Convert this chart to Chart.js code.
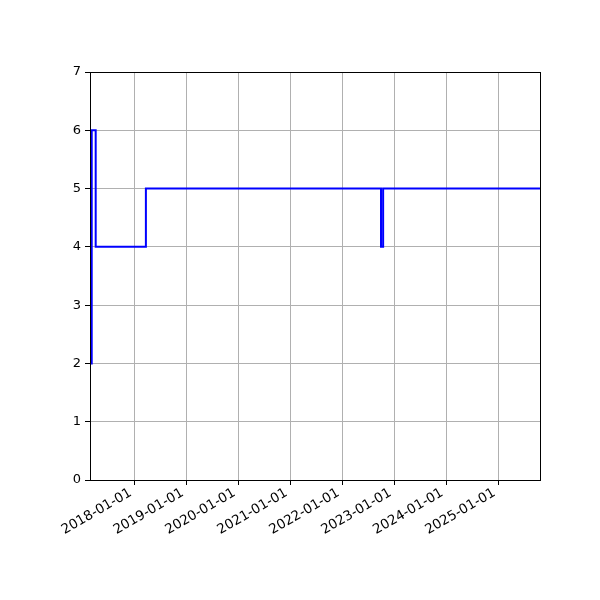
<!DOCTYPE html>
<html>
<head>
<meta charset="utf-8">
<script src="https://cdn.jsdelivr.net/npm/chart.js@4/dist/chart.umd.min.js"></script>
<style>
  html, body { margin: 0; padding: 0; background: #fff; }
  #chart { display: block; }
</style>
</head>
<body>
<canvas id="chart" width="600" height="600"></canvas>
<script>
// step series: value holds from each date until the next one
const changeDates = ['2017-02-22', '2017-03-05', '2017-04-02', '2018-03-21', '2022-09-29', '2022-10-14', '2025-10-21'];
const levels = [2, 6, 4, 5, 4, 5, 5];
const tickDates = ['2018-01-01', '2019-01-01', '2020-01-01', '2021-01-01', '2022-01-01', '2023-01-01', '2024-01-01', '2025-01-01'];
const yTicks = [0, 1, 2, 3, 4, 5, 6, 7];

const xMin = Date.parse('2017-02-21');
const xMax = Date.parse('2025-10-21');

const points = changeDates.map((d, i) => ({ x: Date.parse(d), y: levels[i] }));

const tickFont = { family: 'DejaVu Sans', size: 13 };
const gridColor = '#b0b0b0';

// matplotlib draws all four spines, Chart.js only the axis ones
const framePlugin = {
    id: 'frame',
    afterDraw(chart) {
        const a = chart.chartArea;
        const ctx = chart.ctx;
        ctx.save();
        ctx.strokeStyle = '#000';
        ctx.lineWidth = 1;
        ctx.strokeRect(Math.round(a.left) + 0.5, Math.round(a.top) + 0.5, Math.round(a.right - a.left), Math.round(a.bottom - a.top));
        ctx.restore();
    }
};

new Chart(document.getElementById('chart'), {
    type: 'line',
    data: {
        datasets: [{
            data: points,
            borderColor: '#0000ff',
            borderWidth: 2,
            pointRadius: 0,
            fill: false,
            stepped: 'before',
            tension: 0
        }]
    },
    options: {
        responsive: false,
        animation: false,
        devicePixelRatio: 1,
        layout: { padding: { left: 0, right: 60, top: 72, bottom: 0 } },
        plugins: { legend: { display: false }, tooltip: { enabled: false } },
        scales: {
            x: {
                type: 'linear',
                min: xMin,
                max: xMax,
                grid: { color: gridColor, lineWidth: 1, tickColor: '#000', tickLength: 5, tickWidth: 1 },
                border: { color: '#000', width: 1 },
                afterBuildTicks: axis => {
                    axis.ticks = tickDates.map(d => ({ value: Date.parse(d) }));
                },
                ticks: {
                    autoSkip: false,
                    minRotation: 30,
                    maxRotation: 30,
                    padding: 0,
                    labelOffset: -4,
                    color: '#000',
                    font: { family: 'DejaVu Sans', size: 13.5 },
                    callback: v => new Date(v).toISOString().slice(0, 10)
                },
                afterFit: scale => { scale.height = 120; }
            },
            y: {
                min: 0,
                max: 7,
                grid: { color: gridColor, lineWidth: 1, tickColor: '#000', tickLength: 5, tickWidth: 1 },
                border: { color: '#000', width: 1 },
                afterBuildTicks: axis => {
                    axis.ticks = yTicks.map(v => ({ value: v }));
                },
                ticks: {
                    padding: 4,
                    color: '#000',
                    font: tickFont
                },
                afterFit: scale => { scale.width = 90; }
            }
        }
    },
    plugins: [framePlugin]
});
</script>
</body>
</html>
